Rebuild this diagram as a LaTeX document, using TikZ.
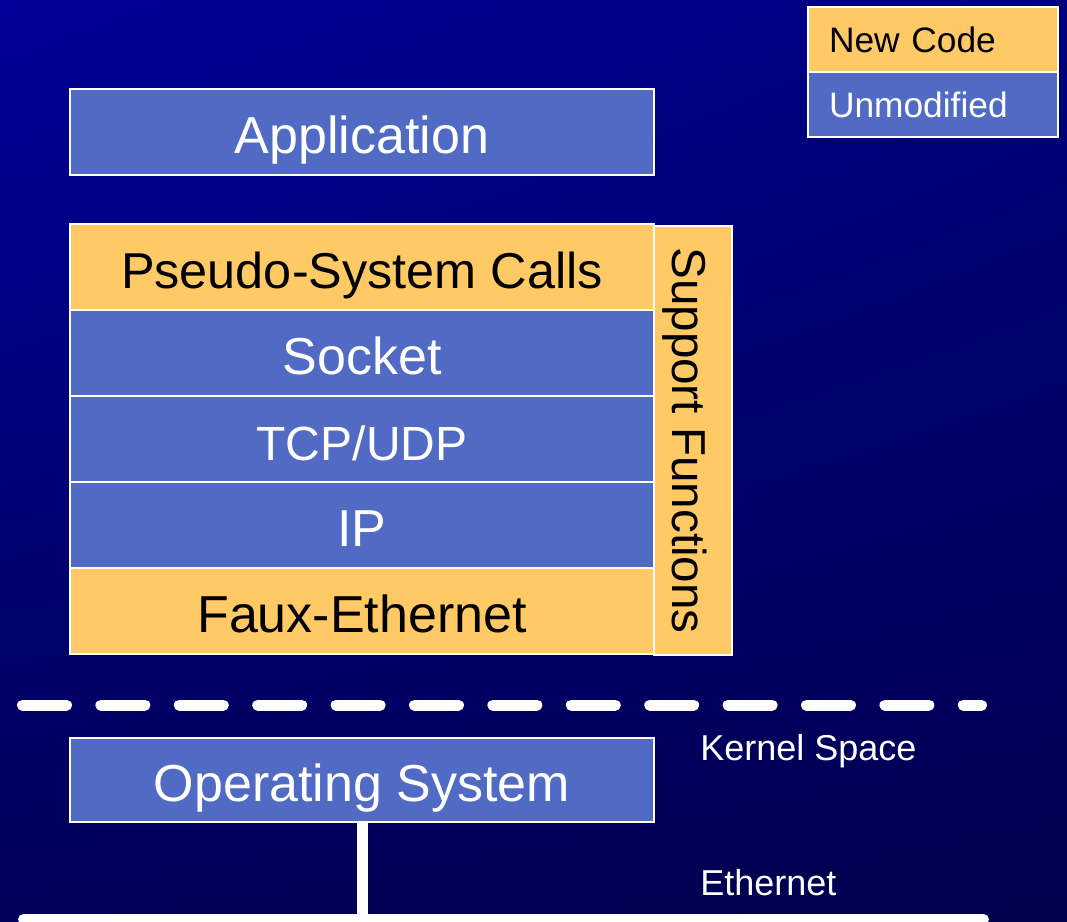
\documentclass[tikz,border=0pt]{standalone}
\usepackage{fontspec}
\setmainfont{Liberation Sans}
\usetikzlibrary{positioning,shadings}
\definecolor{layerblue}{RGB}{81,106,196}
\definecolor{layerorange}{RGB}{255,201,102}
\definecolor{bgul}{RGB}{0,0,152}
\definecolor{bgur}{RGB}{0,0,125}
\definecolor{bgll}{RGB}{0,0,88}
\definecolor{bglr}{RGB}{0,0,78}
\tikzset{
  layer/.style={draw=white, line width=1.1pt, inner sep=0pt, outer sep=0pt,
    minimum width=438pt, minimum height=64.5pt,
    text height=31.5pt, text depth=0pt,
    font=\fontsize{39}{44}\selectfont},
  newcode/.style={fill=layerorange, text=black},
  unmod/.style={fill=layerblue, text=white},
  legend/.style={draw=white, line width=1.1pt, outer sep=0pt,
    minimum height=48.75pt, text width=156pt, inner xsep=15.75pt,
    align=left, font=\fontsize{26.5}{30}\selectfont},
  note/.style={text=white, font=\fontsize{27}{31}\selectfont, inner sep=0pt}
}
\begin{document}
\begin{tikzpicture}[x=0.75pt,y=-0.75pt]
%Hintergrund
  \useasboundingbox (0,0) rectangle (1067,921);
  \clip (0,0) rectangle (1067,921);
  \shade[upper left=bgul, upper right=bgur, lower left=bgll, lower right=bglr]
    (0,0) rectangle (1067,921);
%Legende
  \node (new) [legend, newcode, anchor=north west] at (808,7) {New Code};
  \node (old) [legend, unmod, below=0pt of new] {Unmodified};
%Schichten
  \node (app) [layer, unmod, anchor=north west] at (70,89) {Application};
  \node (psc) [layer, newcode, anchor=north west,
    font=\fontsize{37.8}{44}\selectfont] at (70,224) {Pseudo-System Calls};
  \node (sock) [layer, unmod, below=0pt of psc] {Socket};
  \node (tcp) [layer, unmod, below=0pt of sock,
    font=\fontsize{36}{44}\selectfont] {TCP/UDP};
  \node (ip) [layer, unmod, below=0pt of tcp] {IP};
  \node (faux) [layer, newcode, below=0pt of ip] {Faux-Ethernet};
  \node (supp) [layer, newcode, rotate=-90, anchor=south west,
    minimum width=321.75pt, minimum height=58.5pt,
    font=\fontsize{35.7}{40}\selectfont] at (654,226) {Support Functions};
%Kernel
  \coordinate (kl) at (22.5,705);
  \coordinate (kr) at (981.5,705);
  \draw[white, line width=8.25pt, line cap=round,
    dash pattern=on 33pt off 25.8pt] (kl) -- (kr);
  \node (ks) [note, anchor=base west] at (700,760) {Kernel Space};
  \node (os) [layer, unmod, anchor=north west, minimum height=63pt] at (70,738)
    {Operating System};
%Ethernet
  \coordinate (bl) at (23.5,919.5);
  \coordinate (br) at (983.5,919.5);
  \draw[white, line width=8.25pt, line cap=round] (bl) -- (br);
  \draw[white, line width=8.25pt] (os.south) -- (os.south |- bl);
  \node (eth) [note, anchor=base west] at (700,895) {Ethernet};
\end{tikzpicture}
\end{document}
